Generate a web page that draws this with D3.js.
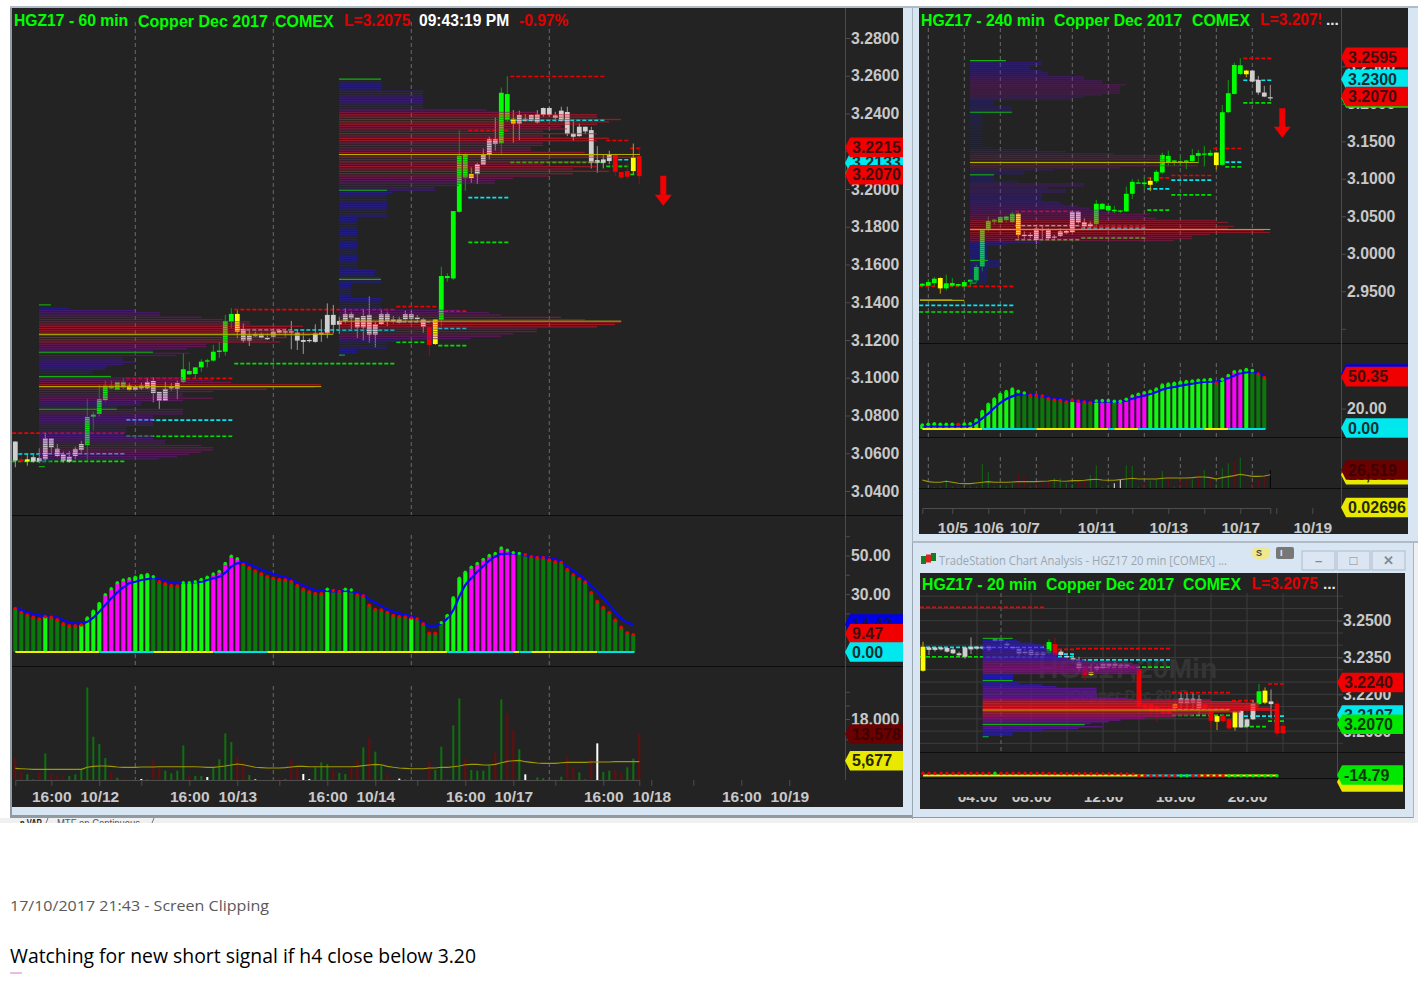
<!DOCTYPE html>
<html><head><meta charset="utf-8">
<script src="https://cdn.jsdelivr.net/npm/d3@7/dist/d3.min.js"></script>
<style>html,body{margin:0;padding:0;background:#fff}svg{display:block}text{font-family:"Liberation Sans",Arial,sans-serif;font-weight:bold}</style>
</head><body><div id="c"></div>
<script>
// ---------- 60 min candles: [high, bodyTop, bodyBottom, low]
const candles60=[[3.0662,3.0662,3.0561,3.0526],[3.0591,3.0568,3.0556,3.0547],[3.0594,3.0568,3.0556,3.0534],[3.0591,3.0579,3.0556,3.0550],[3.0626,3.0575,3.0556,3.0547],[3.0709,3.0679,3.0568,3.0556],[3.0679,3.0679,3.0631,3.0600],[3.0649,3.0624,3.0586,3.0579],[3.0609,3.0594,3.0561,3.0550],[3.0612,3.0582,3.0556,3.0550],[3.0635,3.0623,3.0586,3.0568],[3.0665,3.0649,3.0617,3.0603],[3.0886,3.0792,3.0644,3.0561],[3.0820,3.0805,3.0792,3.0720],[3.0962,3.0886,3.0808,3.0794],[3.0985,3.0958,3.0882,3.0873],[3.0985,3.0958,3.0944,3.0939],[3.0978,3.0978,3.0935,3.0935],[3.1001,3.0978,3.0949,3.0939],[3.0971,3.0958,3.0935,3.0932],[3.0962,3.0951,3.0935,3.0932],[3.0974,3.0958,3.0944,3.0935],[3.0997,3.0978,3.0944,3.0939],[3.1002,3.0983,3.0919,3.0870],[3.0925,3.0925,3.0877,3.0835],[3.0979,3.0941,3.0877,3.0877],[3.0971,3.0956,3.0944,3.0932],[3.0985,3.0971,3.0942,3.0886],[3.1130,3.1045,3.0979,3.0971],[3.1085,3.1036,3.1018,3.1015],[3.1055,3.1055,3.1020,3.0997],[3.1098,3.1085,3.1055,3.1032],[3.1100,3.1092,3.1087,3.1055],[3.1174,3.1138,3.1091,3.1085],[3.1190,3.1144,3.1137,3.1105],[3.1333,3.1301,3.1138,3.1117],[3.1368,3.1338,3.1297,3.1262],[3.1356,3.1338,3.1244,3.1209],[3.1288,3.1257,3.1197,3.1186],[3.1257,3.1225,3.1197,3.1168],[3.1244,3.1232,3.1220,3.1218],[3.1239,3.1232,3.1211,3.1209],[3.1235,3.1211,3.1204,3.1200],[3.1262,3.1244,3.1218,3.1214],[3.1257,3.1253,3.1239,3.1235],[3.1257,3.1246,3.1239,3.1218],[3.1301,3.1246,3.1239,3.1151],[3.1250,3.1239,3.1197,3.1147],[3.1243,3.1200,3.1190,3.1126],[3.1209,3.1200,3.1197,3.1186],[3.1283,3.1235,3.1190,3.1186],[3.1310,3.1239,3.1230,3.1190],[3.1394,3.1333,3.1235,3.1209],[3.1386,3.1333,3.1280,3.1235],[3.1324,3.1301,3.1281,3.1232],[3.1368,3.1338,3.1301,3.1288],[3.1350,3.1338,3.1315,3.1257],[3.1318,3.1318,3.1267,3.1211],[3.1363,3.1327,3.1267,3.1197],[3.1430,3.1333,3.1228,3.1186],[3.1297,3.1283,3.1228,3.1161],[3.1359,3.1338,3.1285,3.1280],[3.1350,3.1338,3.1299,3.1274],[3.1327,3.1310,3.1299,3.1288],[3.1324,3.1310,3.1292,3.1288],[3.1356,3.1338,3.1310,3.1292],[3.1356,3.1338,3.1313,3.1292],[3.1333,3.1320,3.1311,3.1297],[3.1315,3.1310,3.1271,3.1239],[3.1267,3.1267,3.1174,3.1115],[3.1310,3.1310,3.1179,3.1174],[3.1588,3.1539,3.1306,3.1274],[3.1553,3.1539,3.1528,3.1509],[3.1883,3.1883,3.1526,3.1517],[3.2312,3.2176,3.1879,3.1874],[3.2189,3.2183,3.2061,3.1991],[3.2114,3.2079,3.2058,3.2033],[3.2139,3.2132,3.2079,3.2026],[3.2215,3.2183,3.2127,3.2127],[3.2277,3.2263,3.2183,3.2157],[3.2379,3.2263,3.2238,3.2203],[3.2538,3.2510,3.2242,3.2185],[3.2598,3.2503,3.2365,3.2356],[3.2418,3.2372,3.2347,3.2245],[3.2415,3.2392,3.2347,3.2259],[3.2397,3.2372,3.2362,3.2356],[3.2397,3.2392,3.2362,3.2356],[3.2418,3.2395,3.2353,3.2347],[3.2432,3.2429,3.2392,3.2383],[3.2436,3.2429,3.2392,3.2383],[3.2409,3.2390,3.2376,3.2356],[3.2436,3.2415,3.2362,3.2356],[3.2436,3.2408,3.2291,3.2280],[3.2360,3.2294,3.2277,3.2256],[3.2347,3.2330,3.2280,3.2277],[3.2330,3.2330,3.2305,3.2291],[3.2330,3.2312,3.2139,3.2109],[3.2227,3.2153,3.2139,3.2086],[3.2180,3.2157,3.2139,3.2109],[3.2203,3.2181,3.2148,3.2132],[3.2189,3.2181,3.2091,3.2068],[3.2090,3.2090,3.2061,3.2051],[3.2139,3.2095,3.2065,3.2051],[3.2241,3.2167,3.2095,3.2074],[3.2220,3.2174,3.2068,3.2026]];
const kinds60="wrywwwwwwwwwgggggggywwwwwwwwgggggggggywwwwwwwwwwwwwwwwwwwwwwwwwwwwwwwryggggg"+"ywwwwggywwwwwwwwwwwwwwwwrrryr";
// levels: [kind, price, firstBar, lastBar]
const levels60=[["r",3.0707,0,18],["c",3.0596,1,18],["g",3.0557,0,18],["r",3.0997,19,36],["c",3.0776,19,36],["g",3.0690,19,36],["r",3.1361,37,63],["c",3.1253,38,63],["g",3.1075,37,63],["r",3.1377,64,70],["c",3.1296,64,70],["g",3.1188,64,68],["r",3.1353,71,75],["c",3.1261,71,75],["g",3.1170,71,75],["r",3.2310,76,82],["c",3.1954,76,82],["g",3.1717,76,82],["r",3.2596,83,98],["c",3.2365,83,98],["g",3.2141,83,98],["r",3.2257,99,102],["c",3.2155,101,102],["g",3.2120,99,102],["r",3.2215,103,104],["g",3.2077,103,103]];
// volume-at-price profiles
const profileA=[4.9,16,20.2,20.2,27.1,30.7,35.2,35.2,44,41.3,42.4,49,45.2,41.3,37.9,40.2,27.9,27.9,24.6,19,25.2,22.9,14,14,16,14,11.3,11,9,9,12,24,29,32,47,46,38,29,24,24,29,24,17,17,13,24,24,24,19,19,19,19,19,14.6,14.6,14.6,14,19,19,21,21,27,29,29,27,25,23,20,2,1];
const profileB=[7.1,7.1,7.1,7.1,14,14,14,14,14,14,14,14,24.6,33,43,43,47,45,43,37,38,34,43,34,45,43,34,34,32,32,41,45,50,35,43,34,43,39,45,39,35,29,26,26,20,16,16,9,8,8,8,8,8,8,8,8,8,8,3,3,3,3,3,3,3,3,3,3,3,3,3,3,3,3,3,3,3,3,3,3,6,6,6,7,7,7,2,2,2,2,2,2,7,7,7,7,7,20,25,27,37,41,47,46,43,33,33,29,27,22,10,8,8,8,3,3,1];
const pocs60=[[3.1230,3.94,53],[3.0953,3.94,51],[3.2183,53.94,104.1],[3.1300,53.94,101]];
const edges60=[[3.1386,3.94,2],[3.1135,3.94,19],[3.1006,3.94,12],[3.0833,3.94,13],[3.0529,3.94,1],[3.2582,53.94,7],[3.1993,53.94,8],[3.1521,53.94,7],[3.1120,53.94,1]];
const priceTicks60=[3.28,3.26,3.24,3.22,3.20,3.18,3.16,3.14,3.12,3.10,3.08,3.06,3.04];
const rsi60=[22.6,20.5,19.2,18,17.1,18.3,18,16.7,14.7,13.6,13.6,14,17.6,21.2,25.2,29.7,32.8,35.9,37.3,38,38.8,39.7,40.2,39,36.4,35.4,34.5,34.2,35.9,35.9,36.4,37.6,38.7,40.4,41.8,45.9,49.6,48.3,45.4,43.7,42,40.6,39,38.3,37.6,37.5,36.6,34.5,32.5,31.3,30.4,30.2,32.5,31.9,31.4,32.5,32.1,29.5,29.2,24.2,22.1,21.8,20.5,19,18.3,18.1,17.6,17.1,14.7,9.7,9.7,15.2,19,28.1,38.2,41.4,43.9,45.9,48,50,51.1,53.9,52.8,51.5,51.1,50.4,49.4,49,48.9,47.8,46.8,46.4,42.8,40,38,36.3,30.7,26.2,23.1,20.4,16.6,12.8,10,9];
const signal60=[23.1,21.8,20.5,19.7,19,18.8,18.6,18,16.6,15.4,14.8,14.8,15.7,17.8,20.9,24.4,27.8,30.9,33.5,35.6,36.4,37.3,37.8,38.2,37.8,36.8,36.1,35.6,35.9,35.9,36.1,36.4,37.3,38.2,39,41.1,44.2,45.9,46.3,45.4,44.2,42.8,41.4,40.4,39.5,38.8,37.6,35.9,34.4,33.2,32.1,31.8,31.6,31.4,31.4,31.6,31.4,30.4,29.5,27.3,25.6,23.8,22.1,20.9,20,19.2,18.5,17.3,15.2,13.5,13.5,14.8,17.4,21.8,28.7,34.7,38.2,41.6,44.5,47.3,49.4,50.8,50.9,51.1,50.8,50,49.7,49.4,49,48.7,48,46.8,44.2,42.1,39.9,37.3,34.2,31.3,27.8,24.4,20.5,17.4,15.2,14.42];
const rsiKinds60="dddddldddddllllmmmmmllldddddlllllmmmmmddddddddddddddlddlddddddddddldddddllllmmmmmmmmddddddddddddddddddddd";
const rsiDots60="rrrrrrrrrrrrggggggggggggrrrrggggggggggrrrrrrrrrrrrrrgrrggrrrrrrrrrrrrrrggggggggggggggrrrrrrrrrrrrrrrrrrr";
const stateSegs60=[["y",0,14],["c",14,23],["y",23,33],["c",33,42],["y",42,72],["c",72,83],["y",83,84],["c",84,86],["y",86,97],["c",97,103.2]];
const volume60=[6400,2450,1670,200,2260,7860,1970,1180,980,1180,1670,3150,27300,12780,10600,6500,2260,690,490,200,100,300,200,5900,3440,2750,1970,2750,10200,1380,1180,1180,880,3830,6100,13760,11200,6880,5400,1470,200,100,100,200,590,300,6290,4130,1770,300,3740,5210,4720,2950,2060,1770,3540,6100,9630,12390,8360,4420,1670,400,400,200,300,100,300,5400,2950,9830,100,16120,24080,6290,2950,2750,2750,4420,8060,23790,19660,14650,9040,1670,200,790,590,200,200,980,6880,3640,2260,200,6290,10810,2360,2750,2950,1770,3740,6290,13578];
const volKinds60="rrggrgrrrgggggggrgrrrwgrrggggrggwggggrrgwrrgrgrrwwgggrggrrgrggrrwggrrrgggggrggggrgrrgwrgggrgrrggrwggrrggr";
const volAvg60=[3440,3340,3240,3150,3150,3150,3150,3150,3150,3150,3150,3150,3740,4030,4130,4130,4030,3830,3740,3740,3740,3830,3830,3830,3930,3930,3930,3930,3930,3930,3930,3830,3740,3740,3930,4130,4420,4720,4520,4130,3740,3640,3540,3540,3540,3640,3830,4030,4030,3930,3930,3930,3930,3930,3930,3930,3930,4030,4230,4420,4620,4520,4030,3740,3540,3440,3340,3340,3340,3540,3540,3740,3740,3930,4130,4520,4620,4620,4420,4420,4620,5110,5500,5700,5800,5410,5210,5010,4920,4920,4920,5110,5210,5210,5210,5210,5310,5310,5310,5310,5410,5410,5410,5410,5410];
const timeTicks60=[6,14,21,29,37,44,52,60,67,75,83,90,98,106,113,121,129];
const timeNames60={6:"16:00",14:"10/12",29:"16:00",37:"10/13",52:"16:00",60:"10/14",75:"16:00",83:"10/17",98:"16:00",106:"10/18",121:"16:00",129:"10/19"};
const sessions60=[20,43,66,89];

// ---------- 240 min
const candles240=[[2.9610,2.9601,2.9574,2.9557],[2.9663,2.9623,2.9574,2.9566],[2.9690,2.9668,2.9610,2.9566],[2.9685,2.9677,2.9539,2.9468],[2.9721,2.9606,2.9539,2.9512],[2.9677,2.9610,2.9574,2.9557],[2.9601,2.9597,2.9574,2.9557],[2.9632,2.9623,2.9566,2.9557],[2.9663,2.9654,2.9628,2.9566],[2.9854,2.9823,2.9646,2.9610],[3.0329,3.0329,2.9832,2.9765],[3.0498,3.0436,3.0329,3.0298],[3.0462,3.0454,3.0431,3.0387],[3.0507,3.0489,3.0418,3.0409],[3.0507,3.0498,3.0454,3.0418],[3.0565,3.0534,3.0427,3.0409],[3.0542,3.0534,3.0249,3.0187],[3.0298,3.0254,3.0240,3.0196],[3.0285,3.0254,3.0240,3.0209],[3.0365,3.0338,3.0187,3.0129],[3.0374,3.0329,3.0312,3.0187],[3.0343,3.0320,3.0205,3.0178],[3.0254,3.0232,3.0223,3.0178],[3.0343,3.0298,3.0240,3.0223],[3.0320,3.0303,3.0276,3.0267],[3.0578,3.0560,3.0289,3.0276],[3.0565,3.0560,3.0418,3.0400],[3.0476,3.0423,3.0365,3.0343],[3.0431,3.0400,3.0365,3.0343],[3.0720,3.0667,3.0400,3.0365],[3.0676,3.0667,3.0596,3.0587],[3.0653,3.0640,3.0578,3.0569],[3.0640,3.0587,3.0569,3.0542],[3.0587,3.0578,3.0569,3.0542],[3.0898,3.0800,3.0565,3.0560],[3.0995,3.0960,3.0800,3.0729],[3.0995,3.0951,3.0942,3.0933],[3.1022,3.0951,3.0929,3.0853],[3.1017,3.0973,3.0920,3.0835],[3.1120,3.1093,3.0969,3.0942],[3.1350,3.1319,3.1084,3.1066],[3.1377,3.1306,3.1217,3.1173],[3.1253,3.1244,3.1226,3.1173],[3.1297,3.1235,3.1222,3.1164],[3.1253,3.1244,3.1226,3.1128],[3.1399,3.1315,3.1235,3.1217],[3.1386,3.1342,3.1306,3.1208],[3.1439,3.1337,3.1324,3.1164],[3.1386,3.1346,3.1311,3.1297],[3.1350,3.1350,3.1182,3.1128],[3.1985,3.1888,3.1186,3.1173],[3.2318,3.2141,3.1888,3.1874],[3.2549,3.2518,3.2132,3.2123],[3.2607,3.2514,3.2398,3.2381],[3.2452,3.2443,3.2394,3.2354],[3.2452,3.2443,3.2296,3.2283],[3.2372,3.2318,3.2150,3.2119],[3.2238,3.2150,3.2096,3.2088],[3.2252,3.2088,3.2074,3.2039]];
const kinds240="gggyggggggggggggywwwwwwwwwwwwgggggggggyggggggggggyggggywwww";
const levels240=[["r",2.9566,0,15],["c",2.9313,0,15],["g",2.9224,0,15],["r",3.0565,16,26],["c",3.0374,16,26],["g",3.0187,16,26],["r",3.0374,27,37],["c",3.0338,27,37],["g",3.0209,27,37],["r",3.1013,38,41],["c",3.0866,38,41],["g",3.0582,38,41],["r",3.1044,42,48],["c",3.0982,42,48],["g",3.0787,42,48],["r",3.1404,49,53],["c",3.1222,51,53],["g",3.1160,51,53],["r",3.2607,54,58],["c",3.2314,54,58],["g",3.2012,54,58]];
const profile240=[12,12,10,10,12,13,13,19,19,22,22,26,25,25,25,25,22,19,17,4,4,4,7,7,7,7,2,2,2,2,2,2,2,2,2,2,2,2,2,2,2,2,4,11,16,24,32,32,33,32.5,32,38,25,14,9,9,4,4,4,8,19,19,13,16,16,12,12,12,12,15,15.5,18,20,22,24,30,29,31,41,43,41,44,43,49,50,40,37,37,34,12,6,3,3,3,3,3,3,3,5,5,5,5,3,3,3,3,3,3,3,3];
const pocs240=[[3.1217,7.94,46],[3.0325,7.94,58]];
const edges240=[[3.2576,7.94,6],[3.1888,7.94,7],[3.1053,7.94,4],[2.9912,7.94,3],[2.9610,7.94,1]];
const priceTicks240=[3.25,3.20,3.15,3.10,3.05,3.00,2.95,2.90];
const rsi240=[3.9,4.6,5.2,4.6,4.6,4.6,4.6,4.9,5.2,8.8,17,24.2,29.4,34,36.6,39.2,36.9,35.3,33,33,32.4,29.7,28.4,27.8,26.5,28.1,27.5,26.5,25.8,27.5,27.8,27.8,27.1,27.1,29.1,32.4,34,35.6,36.9,39.2,43.1,44.1,44.8,45.8,46.4,47.1,47.7,48,48.4,45.1,48.7,52.3,56.2,56.9,58.2,57.2,53.9,50.35];
const signal240=[2.6,2.6,2.6,2.6,2.6,2.6,2.6,2.6,3.3,5.9,10.5,15,20.6,25.5,29.4,32,33.7,34,33.7,33,32,31,30,29.4,28.4,27.8,27.1,27.1,26.5,26.8,26.8,26.8,26.8,26.8,27.8,29.7,31.4,32.7,34.3,36.3,38.6,40.2,41.2,42.5,43.5,44.4,45.4,46.1,46.4,46.4,47.7,50,52.3,54.6,55.6,55.9,54.9,53.3];
const rsiKinds240="lllllllllllllllldddddddddlmddlmmdmmmmmllllllllllldlmmmlddd";
const rsiDots240="ggggggrgggggggggggrrrrrrrrrrrggggggggggggggggggggrggggggrr";
const stateSegs240=[["y",0,10],["c",10,19],["y",19,31],["c",31,32],["y",32,36],["c",36,47],["y",47,51],["c",51,57.2]];
const volume240=[960,1450,1930,2410,12050,2410,1450,2410,2410,2410,35190,24100,2410,3370,3370,7230,20700,16870,2410,6270,8190,9640,14460,14460,7230,6270,12050,11090,19280,33260,2410,3370,7230,12050,33260,32290,2410,7230,11090,13010,25060,16870,2410,14460,11090,13010,20700,26510,14460,7230,28920,36150,39500,44800,2410,8190,12050,16870,26519];
const volKinds240="gggggggggggggggg"+"rrgrrrgg"+"gg"+"rrggggwwgg"+"grggg"+"rgrrgrgrgggrgrrrr";
const volAvg240=[12050,9640,8680,8680,10120,8680,7230,6750,6750,7710,8680,9640,8680,8680,8680,9160,9640,9640,9640,9640,10120,10600,11570,10600,10120,11090,11090,11570,12530,13010,12050,11570,11570,12530,13500,14460,13500,13500,13500,13500,14460,14940,14940,14940,14940,15420,16390,16390,15420,13500,15420,16870,18320,20240,18800,17350,17350,17830,19589];
const timeTicks240=[5,11,17,23,29,35,41,47,53,59,65];
const timeNames240={5:"10/5",11:"10/6",17:"10/7",29:"10/11",41:"10/13",53:"10/17",65:"10/19"};
const sessions240=[1,7,13,19,25,31,37,43,49,55];

// ---------- 20 min
const candles20=[[3.2414,3.2394,3.2296,3.2292],[3.2397,3.2391,3.2381,3.2360],[3.2394,3.2391,3.2381,3.2374],[3.2394,3.2391,3.2383,3.2378],[3.2394,3.2389,3.2374,3.2370],[3.2391,3.2383,3.2367,3.2364],[3.2374,3.2367,3.2359,3.2353],[3.2394,3.2391,3.2353,3.2345],[3.2432,3.2394,3.2383,3.2364],[3.2397,3.2394,3.2386,3.2381],[3.2397,3.2391,3.2386,3.2381],[3.2401,3.2397,3.2383,3.2374],[3.2428,3.2425,3.2417,3.2414],[3.2427,3.2424,3.2417,3.2413],[3.2414,3.2408,3.2400,3.2394],[3.2397,3.2394,3.2387,3.2381],[3.2391,3.2386,3.2364,3.2356],[3.2387,3.2374,3.2367,3.2360],[3.2387,3.2381,3.2360,3.2353],[3.2376,3.2370,3.2361,3.2356],[3.2374,3.2370,3.2361,3.2353],[3.2424,3.2413,3.2370,3.2360],[3.2432,3.2405,3.2360,3.2353],[3.2381,3.2374,3.2360,3.2353],[3.2367,3.2356,3.2351,3.2347],[3.2360,3.2347,3.2340,3.2333],[3.2353,3.2329,3.2306,3.2292],[3.2315,3.2313,3.2279,3.2258],[3.2323,3.2292,3.2279,3.2275],[3.2323,3.2315,3.2302,3.2292],[3.2333,3.2326,3.2306,3.2302],[3.2329,3.2326,3.2313,3.2306],[3.2332,3.2326,3.2315,3.2310],[3.2326,3.2321,3.2313,3.2306],[3.2323,3.2321,3.2313,3.2310],[3.2319,3.2315,3.2306,3.2302],[3.2306,3.2302,3.2150,3.2143],[3.2163,3.2160,3.2143,3.2136],[3.2163,3.2160,3.2129,3.2109],[3.2177,3.2150,3.2129,3.2088],[3.2163,3.2143,3.2120,3.2109],[3.2179,3.2143,3.2120,3.2116],[3.2166,3.2160,3.2143,3.2129],[3.2204,3.2183,3.2163,3.2143],[3.2204,3.2182,3.2163,3.2136],[3.2204,3.2182,3.2166,3.2143],[3.2197,3.2181,3.2143,3.2116],[3.2163,3.2160,3.2143,3.2136],[3.2143,3.2140,3.2092,3.2061],[3.2116,3.2111,3.2088,3.2054],[3.2116,3.2113,3.2091,3.2084],[3.2102,3.2099,3.2061,3.2054],[3.2133,3.2130,3.2065,3.2052],[3.2136,3.2133,3.2065,3.2063],[3.2102,3.2098,3.2068,3.2065],[3.2177,3.2163,3.2098,3.2095],[3.2242,3.2212,3.2160,3.2156],[3.2228,3.2215,3.2166,3.2160],[3.2220,3.2171,3.2160,3.2102],[3.2177,3.2162,3.2041,3.2027],[3.2075,3.2071,3.2041,3.2038]];
const kinds20="ywwwwwwwwwwwwwwwwwwwwgrwwwwrywwwwwwrrrrrrrywwwwrryrrywwwgywrr";
const levels20=[["r",3.2554,0,20],["c",3.2391,1,20],["g",3.2353,0,20],["r",3.2383,23,25],["c",3.2364,23,25],["c",3.2353,23,25],["r",3.2386,26,41],["c",3.2340,26,41],["g",3.2311,26,41],["r",3.2207,42,51],["c",3.2139,42,51],["g",3.2114,42,51],["r",3.2174,52,55],["c",3.2111,54,57],["g",3.2068,54,57],["r",3.2242,58,60],["c",3.2111,58,60],["g",3.2091,58,60]];
const profile20=[5.8,6.3,8.4,9.8,10,10.6,11.2,11.8,12.3,12.6,12.3,14,17,22,25,26,26,26,26,26,26,5.1,5.1,5.1,5.1,6,6.2,10,12.3,19,19,19,19,19,19,24,38,43,46,46,46,48,49,43,38,35,32,27,23,21,18,17,20,16,10,5,5,5,1];
const pocs20=[[3.2136,9.94,51]];
const edges20=[[3.2428,9.94,5],[3.2256,9.94,5],[3.2077,9.94,17],[3.2027,9.94,1]];
const priceTicks20=[3.25,3.235,3.22,3.205];
const rsi20=[45,45,44,45,44,45,44,45,45,44,45,44,46,45,44,45,44,45,44,45,45,40,40,38,36,36,35,35,34,34,33,32,32,30,30,28,-6,-6,-5,-6,-5,-6,-5,-6,-6,-6,-6,-6,-7,-6,-6,-6,-6,-6,-6,-6,-6,-6,-6,-6];
const rsiDots20="rrrrrrrrrrrrgrrrrrrrrrrrrrrrrrrrrrrrrrrrrrrggrrrrrrggggggggg";
const stateSegs20=[["y",0,37],["c",37,46],["y",46,59]];
const timeTicks20=[9,18,30,42,54];
const timeNames20={9:"04:00",18:"08:00",30:"12:00",42:"16:00",54:"20:00"};
const grid20V=[9,18,24,30,36,42,48,54,60];

// ---------- tags
const tags60=[["g",3.2075,"3.2075"],["c",3.2133,"3.2133"],["r",3.2215,"3.2215"],["r",3.2070,"3.2070"]];
const rsiTags60=[["b",14.42,"14.42"],["r",9.47,"9.47"],["c",0,"0.00"]];
const volTags60=[["dr",13578,"13,578"],["yl",5677,"5,677"]];
const tags240=[["g",3.2050,"3.2050"],["r",3.2595,"3.2595"],["c",3.2300,"3.2300"],["r",3.2070,"3.2070"]];
const tags20=[["r",3.2240,"3.2240"],["c",3.2107,"3.2107"],["g",3.2070,"3.2070"]];

const W=1418,H=985,DARK="#232323",CHROME="#d8e5f3",FRAME="#8f9aa3";
const kindFill={w:"#cfcfcf",g:"#00ff00",r:"#f00000",y:"#ffff00"};
const kindWick={w:"#9a9a9a",g:"#109a10",r:"#b00000",y:"#c8a000"};
const levelFill={r:"#f00000",c:"#00e8f0",g:"#00e000"};
const tagFill={r:"#f00000",c:"#00e8ee",g:"#00e800",b:"#0000e8",dr:"#6a0000",yl:"#e8e800"};
const tagText={r:"#401010",c:"#123034",g:"#0a3a0a",b:"#101060",dr:"#3f0000",yl:"#262600"};
const svg=d3.select("#c").append("svg").attr("width",W).attr("height",H).attr("viewBox",[0,0,W,H]);
svg.append("rect").attr("width",W).attr("height",H).attr("fill","#fff");
const profColor=d3.scaleLinear().domain([0,8,18,30,45]).range(["#1414d8","#2a18c0","#5c14a0","#90106c","#f01020"]).clamp(true);

function rect(p,x,y,w,h,f,st){const r=p.append("rect").attr("x",x).attr("y",y).attr("width",w).attr("height",h).attr("fill",f);if(st)r.attr("stroke",st);return r;}
function txt(p,x,y,s,f,size,anchor){return p.append("text").attr("x",x).attr("y",y).attr("dy","0.35em").attr("fill",f).attr("font-size",size).attr("text-anchor",anchor||"start").text(s);}
function vdash(p,x,list,y0,y1){p.selectAll(null).data(list).join("line").attr("x1",d=>x(d)).attr("x2",d=>x(d)).attr("y1",y0).attr("y2",y1).attr("stroke","#6a6a6a").attr("stroke-dasharray","4 3");}
function drawLevels(p,x,y,data){p.selectAll(null).data(data).join("line").attr("x1",d=>x(d[2])-3).attr("x2",d=>x(d[3])+3).attr("y1",d=>y(d[1])).attr("y2",d=>y(d[1])).attr("stroke",d=>levelFill[d[0]]).attr("stroke-width",1.7).attr("stroke-dasharray","4 2");}
function drawCandles(p,x,y,data,kinds){
 p.selectAll(null).data(data).join("line").attr("x1",(d,i)=>x(i)).attr("x2",(d,i)=>x(i)).attr("y1",d=>y(d[0])).attr("y2",d=>y(d[3])).attr("stroke",(d,i)=>kindWick[kinds[i]]);
 p.selectAll(null).data(data).join("rect").attr("x",(d,i)=>x(i)-2.4).attr("width",4.8).attr("y",d=>y(d[1])).attr("height",d=>Math.max(1.2,y(d[2])-y(d[1]))).attr("fill",(d,i)=>kindFill[kinds[i]]);
}
function drawProfile(p,x,y,vols,start,top,bottom,op,rowH){
 const row=d3.scaleLinear().domain([0,vols.length-1]).range([top,bottom]);
 p.selectAll(null).data(vols).join("rect").attr("x",x(start)).attr("width",d=>x(start+d)-x(start)).attr("y",(d,i)=>y(row(i))-rowH/2).attr("height",rowH).attr("fill",d=>profColor(d)).attr("opacity",op);
}
function drawPocs(p,x,y,pocs,edges){
 p.selectAll(null).data(pocs).join("line").attr("x1",d=>x(d[1])).attr("x2",d=>x(d[2])).attr("y1",d=>y(d[0])).attr("y2",d=>y(d[0])).attr("stroke","#b4b400").attr("stroke-width",1);
 p.selectAll(null).data(edges).join("line").attr("x1",d=>x(d[1])).attr("x2",d=>x(d[1]+d[2])).attr("y1",d=>y(d[0])).attr("y2",d=>y(d[0])).attr("stroke","#12b012").attr("stroke-width",1.1);
}
function drawArrow(p,x,y,i,pTop,pTip){
 const cx=x(i),t=y(pTop),tip=y(pTip),head=tip-11,path=d3.path();
 path.moveTo(cx-3,t);path.lineTo(cx+3,t);path.lineTo(cx+3,head);path.lineTo(cx+8.5,head);path.lineTo(cx,tip);path.lineTo(cx-8.5,head);path.lineTo(cx-3,head);path.closePath();
 p.append("path").attr("d",path.toString()).attr("fill","#f00000");
}
function drawTags(p,tip,right,y,data,offset){
 data.forEach(d=>{
  const c=y(d[1])+(offset||0),h=9.8,path=d3.path();
  path.moveTo(tip,c);path.lineTo(tip+5,c-h);path.lineTo(right,c-h);path.lineTo(right,c+h);path.lineTo(tip+5,c+h);path.closePath();
  p.append("path").attr("d",path.toString()).attr("fill",tagFill[d[0]]);
  txt(p,tip+7,c,d[2],tagText[d[0]],16);
 });
}
function styleAxis(g,size){
 g.selectAll("line").attr("stroke","#4d4d4d");
 g.selectAll("text").attr("fill","#c8c8c8").attr("font-size",size).attr("font-family",'"Liberation Sans",Arial,sans-serif').attr("font-weight","bold");
}
function yAxis(p,scale,x,vals,fmt){
 const g=p.append("g").attr("transform",`translate(${x},0)`).call(d3.axisRight(scale).tickValues(vals).tickFormat(fmt).tickSize(5).tickPadding(1));
 g.select(".domain").remove();
 styleAxis(g,15.8);
 return g;
}
function xAxis(p,x,vals,names,y,pad){
 const g=p.append("g").attr("transform",`translate(0,${y})`).call(d3.axisBottom(x).tickValues(vals).tickFormat(d=>names[d]||"").tickSize(6).tickPadding(pad));
 g.select(".domain").attr("stroke","#4d4d4d");
 styleAxis(g,15.5);
 return g;
}
function drawOsc(p,x,y,vals,sig,kinds,dots,segs,barW,dotR,stateY){
 const fill={d:"#0a780a",l:"#10f810",m:"#ff00ff"};
 p.selectAll(null).data(vals).join("rect").attr("x",(d,i)=>x(i)-barW/2).attr("width",barW).attr("y",d=>y(d)).attr("height",d=>y(0)-y(d)).attr("fill",(d,i)=>fill[kinds[i]]);
 p.append("path").datum(sig).attr("fill","none").attr("stroke","#0808f0").attr("stroke-width",2.2).attr("d",d3.line().x((d,i)=>x(i)).y(d=>y(d)).curve(d3.curveMonotoneX));
 p.selectAll(null).data(vals).join("circle").attr("cx",(d,i)=>x(i)).attr("cy",d=>y(d)).attr("r",dotR).attr("fill",(d,i)=>dots[i]=="r"?"#f00000":"#00f000");
 p.selectAll(null).data(segs).join("rect").attr("x",d=>x(d[1])).attr("width",d=>x(d[2])-x(d[1])).attr("y",stateY-1).attr("height",2).attr("fill",d=>d[0]=="y"?"#f0f000":"#00e0e8");
}
function drawVol(p,x,y,vals,kinds,avg,barW,op){
 const c={g:"#0e700e",r:"#6e0a0a",w:"#ffffff"};
 p.selectAll(null).data(vals).join("rect").attr("x",(d,i)=>x(i)-barW/2).attr("width",barW).attr("y",d=>y(d)).attr("height",d=>y(0)-y(d)).attr("fill",(d,i)=>c[kinds[i]]).attr("opacity",op);
 p.append("path").datum(avg).attr("fill","none").attr("stroke","#a09800").attr("stroke-width",1.1).attr("d",d3.line().x((d,i)=>x(i)).y(d=>y(d)));
}

// ---------- window chrome
rect(svg,10,6,902,811,CHROME);
rect(svg,10,6,2,811,FRAME);
rect(svg,10,815,902,3,FRAME);
rect(svg,913,6,505,536,CHROME);
rect(svg,912,6,1,812,"#a8b4bf");
rect(svg,913,541,505,2,"#b0bbc5");
rect(svg,912,543,501,276,CHROME);
rect(svg,912,817,506,3,FRAME);
rect(svg,1413,543,1,275,"#a8b4bf");
rect(svg,1414,543,4,275,"#f0f0f0");
rect(svg,0,818,1418,5,"#f0f0f0");
rect(svg,10,6,1408,2,"#b0bbc5");

// ---------- 60 min window
const m=svg.append("g");
rect(m,12,8,891,799,DARK);
const x60=d3.scaleLinear().domain([0,104]).range([15.3,639.3]);
const y60=d3.scaleLinear().domain([3.28,3.04]).range([38,491]);
const yRsi60=d3.scaleLinear().domain([0,50]).range([652,555.5]);
const yVol60=d3.scaleLinear().domain([0,18000]).range([780,719]);
vdash(m,x60,sessions60,22,515);vdash(m,x60,sessions60,535,665);vdash(m,x60,sessions60,686,780);
drawLevels(m,x60,y60,levels60);
drawCandles(m,x60,y60,candles60,kinds60);
drawProfile(m,x60,y60,profileA,3.94,3.1368,3.0546,.6,1.3);
drawProfile(m,x60,y60,profileB,53.94,3.2568,3.1120,.6,1.3);
drawPocs(m,x60,y60,pocs60,edges60);
drawArrow(m,x60,y60,108,3.2070,3.1911);
drawOsc(m,x60,yRsi60,rsi60,signal60,rsiKinds60,rsiDots60,stateSegs60,4,1.7,652);
drawVol(m,x60,yVol60,volume60,volKinds60,volAvg60,2,1);
rect(m,12,515,891,1,"#0c0c0c");rect(m,12,666,891,1,"#0c0c0c");
rect(m,845,8,1,772,"#4a4a4a");
const fmt4=d3.format(".4f");
yAxis(m,y60,845,priceTicks60,fmt4);
yAxis(m,yRsi60,845,[60,50,40,30,20],d=>(d==50||d==30)?d3.format(".2f")(d):"");
yAxis(m,yVol60,845,[26000,22000,18000,12000],d=>d==18000?"18,000":"");
drawTags(m,845,903,y60,tags60,-1);
drawTags(m,845,903,yRsi60,rsiTags60);
drawTags(m,845,903,yVol60,volTags60);
xAxis(m,x60,timeTicks60,timeNames60,780,5);
txt(m,14,21,"HGZ17 - 60 min","#00ff00",15.7);
txt(m,138,21,"Copper Dec 2017","#00ff00",16);
txt(m,275,21,"COMEX","#00ff00",16);
txt(m,344,21,"L=3.2075","#e00000",15.6);
txt(m,419,21,"09:43:19 PM","#ffffff",15.6);
txt(m,519,21,"-0.97%","#e00000",15.6);

// ---------- 240 min window
const a=svg.append("g");
rect(a,919,8,489,526,DARK);
const x240=d3.scaleLinear().domain([0,58]).range([922.3,1270.3]);
const y240=d3.scaleLinear().domain([3.15,2.95]).range([141.3,291.3]);
const yRsi240=d3.scaleLinear().domain([0,20]).range([429,408.6]);
const yVol240=d3.scaleLinear().domain([0,26519]).range([488.3,470]);
vdash(a,x240,sessions240,28,343);vdash(a,x240,sessions240,363,437);vdash(a,x240,sessions240,457,488);
drawLevels(a,x240,y240,levels240);
drawCandles(a,x240,y240,candles240,kinds240);
drawProfile(a,x240,y240,profile240,7.94,3.2549,2.9610,.5,1.2);
drawPocs(a,x240,y240,pocs240,edges240);
a.append("line").attr("x1",x240(-.4)).attr("x2",x240(5)).attr("y1",y240(2.9388)).attr("y2",y240(2.9388)).attr("stroke","#f04000").attr("stroke-width",1.2);
a.append("line").attr("x1",x240(-.4)).attr("x2",x240(7)).attr("y1",y240(2.9380)).attr("y2",y240(2.9380)).attr("stroke","#c8c800").attr("stroke-width",1);
drawArrow(a,x240,y240,60,3.1941,3.1546);
drawOsc(a,x240,yRsi240,rsi240,signal240,rsiKinds240,rsiDots240,stateSegs240,4,1.8,429);
drawVol(a,x240,yVol240,volume240,volKinds240,volAvg240,1,.9);
rect(a,919,343,489,1,"#0c0c0c");rect(a,919,437,489,1,"#0c0c0c");rect(a,919,488,489,1,"#0c0c0c");
rect(a,1341,8,1,500,"#4a4a4a");
yAxis(a,y240,1341,priceTicks240,d=>d==2.9?"":fmt4(d));
yAxis(a,yRsi240,1341,[20],d3.format(".2f"));
drawTags(a,1341,1408,y240,tags240,-2);
drawTags(a,1341,1408,yRsi240,[["b",52.9,""],["r",50.35,"50.35"],["c",0,"0.00"]],-1);
drawTags(a,1341,1408,yVol240,[["yl",19589,"19,589"],["dr",26519,"26,519"]]);
drawTags(a,1341,1408,d3.scaleLinear().domain([0,.02696]).range([0,507.5]),[["yl",.02696,"0.02696"]]);
xAxis(a,x240,timeTicks240,timeNames240,508,8);
const clip240=svg.append("clipPath").attr("id","c240");clip240.append("rect").attr("x",919).attr("y",8).attr("width",402).attr("height",30);
const ttl240=a.append("g").attr("clip-path","url(#c240)");
txt(ttl240,921,20,"HGZ17 - 240 min","#00ff00",15.8);
txt(ttl240,1054,20,"Copper Dec 2017","#00ff00",15.8);
txt(ttl240,1192,20,"COMEX","#00ff00",15.8);
txt(ttl240,1260,20,"L=3.2075","#e00000",15.6);
txt(a,1326,20,"...","#e8e8e8",15.5);

// ---------- 20 min window
const b=svg.append("g");
rect(b,912,543,1,276,"#9aa6b1");
b.selectAll(null).data(["#108020","#e02020","#108020"]).join("rect").attr("x",(d,i)=>921+i*5).attr("y",(d,i)=>556-i*1.5).attr("width",5).attr("height",8).attr("fill",d=>d);
b.append("text").attr("x",939).attr("y",561).attr("dy","0.35em").attr("font-size",12.5).style("font-family",'"Open Sans"').style("font-weight","400").attr("fill","#9ba7b0").attr("textLength",288).attr("lengthAdjust","spacingAndGlyphs").text("TradeStation Chart Analysis - HGZ17 20 min [COMEX] ...");
rect(b,1252,547,18,12,"#efe88c").attr("rx",5);txt(b,1256,553,"S","#444",9);
rect(b,1276,547,18,12,"#777").attr("rx",2);txt(b,1280,553,"I","#eee",9);
[1302,1337,1372].forEach((xx,i)=>{rect(b,xx,551,33,19,"#dbe6f2","#aebccb");txt(b,xx+16.5,560.5,["\u2013","\u25a1","\u2715"][i],"#7f8b96",13,"middle");});
rect(b,920,573,485,236,DARK);
const x20=d3.scaleLinear().domain([0,60]).range([923,1283]);
const y20=d3.scaleLinear().domain([3.25,3.205]).range([620.7,731.1]);
const yRsi20=d3.scaleLinear().domain([0,40]).range([775.5,773.5]);
b.append("g").selectAll("line").data(d3.range(-2,11)).join("line").attr("x1",920).attr("x2",1343).attr("y1",d=>y20(3.25-d*.005)).attr("y2",d=>y20(3.25-d*.005)).attr("stroke","#3c3c3c");
b.append("g").selectAll("line").data(grid20V).join("line").attr("x1",d=>x20(d)).attr("x2",d=>x20(d)).attr("y1",593).attr("y2",752).attr("stroke","#3c3c3c");
vdash(b,x20,[13],593,752);
txt(b,1038,668,"HGZ17,20Min","#353535",28.3);
txt(b,1070,695,"Copper Dec 2017","#333333",14.5);
drawLevels(b,x20,y20,levels20);
drawCandles(b,x20,y20,candles20,kinds20);
drawProfile(b,x20,y20,profile20,9.94,3.2421,3.2027,.85,1.5);
drawPocs(b,x20,y20,pocs20,edges20);
rect(b,920,752,485,1,"#0c0c0c");rect(b,920,778,485,1,"#0c0c0c");
rect(b,1337,573,1,205,"#4a4a4a");
b.selectAll(null).data(stateSegs20).join("rect").attr("x",d=>x20(d[1])).attr("width",d=>x20(d[2])-x20(d[1])).attr("y",774.5).attr("height",2).attr("fill",d=>d[0]=="y"?"#f0f000":"#00e0e8");
b.selectAll(null).data(rsi20).join("circle").attr("cx",(d,i)=>x20(i)).attr("cy",d=>yRsi20(d)).attr("r",1.7).attr("fill",(d,i)=>rsiDots20[i]=="r"?"#e80000":"#00e800");
yAxis(b,y20,1337,priceTicks20,fmt4);
drawTags(b,1337,1403,y20,tags20,-2);
drawTags(b,1337,1403,d3.scaleLinear().domain([0,1]).range([782,782]),[["yl",0,""]]);
drawTags(b,1337,1403,d3.scaleLinear().domain([-20,0]).range([775,775]),[["g",-14.79,"-14.79"]]);
const cl=svg.append("clipPath").attr("id","c20");cl.append("rect").attr("x",920).attr("y",797).attr("width",420).attr("height",12);
const xa=b.append("g").attr("clip-path","url(#c20)");
const g20=xAxis(xa,x20,timeTicks20,timeNames20,782,3);g20.select(".domain").remove();g20.selectAll("line").remove();
txt(b,922,584,"HGZ17 - 20 min","#00ff00",15.8);
txt(b,1046,584,"Copper Dec 2017","#00ff00",15.8);
txt(b,1183,584,"COMEX","#00ff00",15.8);
txt(b,1251.5,584,"L=3.2075","#e00000",15.6);
txt(b,1323,584,"...","#e8e8e8",15.5);

// ---------- note below the clipping
svg.append("text").attr("x",20).attr("y",827).attr("font-size",11).attr("fill","#222").attr("textLength",22).attr("lengthAdjust","spacingAndGlyphs").text("n VAR");
svg.append("text").attr("x",57).attr("y",827).attr("font-size",11).attr("fill","#555").style("font-weight","400").attr("textLength",83).attr("lengthAdjust","spacingAndGlyphs").text("MTF on Continuous");
svg.append("line").attr("x1",46).attr("x2",48).attr("y1",823).attr("y2",818).attr("stroke","#777");
svg.append("line").attr("x1",152).attr("x2",154).attr("y1",823).attr("y2",818).attr("stroke","#777");
rect(svg,0,823,W,10,"#fff");
svg.append("text").attr("x",10).attr("y",911).attr("fill","#595959").attr("font-size",15).style("font-family",'"Open Sans"').style("font-weight","400").attr("textLength",259).attr("lengthAdjust","spacingAndGlyphs").text("17/10/2017 21:43 - Screen Clipping");
svg.append("text").attr("x",10).attr("y",963).attr("fill","#000").attr("font-size",20).style("font-family",'"Open Sans"').style("font-weight","400").attr("textLength",466).attr("lengthAdjust","spacingAndGlyphs").text("Watching for new short signal if h4 close below 3.20");
rect(svg,10,972,12,2,"#e8bfe0");
</script></body></html>
